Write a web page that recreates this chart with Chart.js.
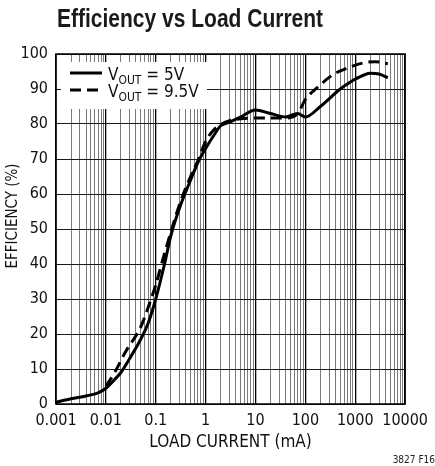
<!DOCTYPE html>
<html>
<head>
<meta charset="utf-8">
<script src="https://cdn.jsdelivr.net/npm/chart.js@4/dist/chart.umd.min.js"></script>
<style>
  html, body { margin: 0; padding: 0; background: #fff; }
</style>
</head>
<body>
<canvas id="efficiency" width="435" height="466"></canvas>
<script>
// decade labels on the load current axis (mA)
const currentTicks = ['0.001', '0.01', '0.1', '1', '10', '100', '1000', '10000'];

// VOUT = 5V
const current5V = [0.001, 0.002, 0.004, 0.007, 0.01, 0.015, 0.02, 0.03, 0.05, 0.07, 0.1, 0.15, 0.2, 0.3, 0.5, 0.7, 1, 1.5, 2, 3, 5, 10, 20, 40, 70, 100, 200, 500, 800, 1000, 1500, 2000, 3000, 4500];
const eff5V     = [0.5, 1.5, 2.3, 3.2, 4.5, 7, 9, 13, 18.5, 23, 30, 40, 48, 56, 64, 69, 73, 77, 79.5, 80.5, 82, 84, 83, 82, 83, 82, 85, 90, 92, 92.8, 94, 94.5, 94.3, 93.2];

// VOUT = 9.5V
const current9V5 = [0.01, 0.015, 0.025, 0.05, 0.07, 0.1, 0.15, 0.3, 0.5, 0.7, 1, 1.5, 2.5, 5, 15, 40, 70, 100, 170, 350, 700, 1500, 2500, 4500];
const eff9V5     = [5, 9, 15, 22, 27.5, 34, 43, 57, 65, 69.5, 75, 78.5, 80.5, 81.5, 81.7, 81.7, 83, 87, 90.3, 94, 96, 97.5, 97.8, 97.2];

const seriesNames = ['5V', '9.5V'];

const FONT = '"Liberation Sans Narrow", "Arial Narrow", "DejaVu Sans Condensed", sans-serif';
const decades = currentTicks.map(Number);

function isDecade(v) {
  const l = Math.log10(v);
  return Math.abs(l - Math.round(l)) < 1e-6;
}

const toPoints = (xs, ys) => xs.map((x, i) => ({ x: x, y: ys[i] }));

// title, y label, legend box, frame and figure tag
const extras = {
  id: 'extras',
  afterDraw(chart) {
    const ctx = chart.ctx;
    const a = chart.chartArea;
    ctx.save();

    // condensed bold heading
    ctx.fillStyle = '#1a1a1a';
    ctx.font = 'bold 25px "Liberation Sans", Arial, sans-serif';
    ctx.textBaseline = 'middle';
    ctx.textAlign = 'left';
    ctx.save();
    ctx.translate(57, 20);
    ctx.scale(0.84, 1);
    ctx.fillText('Efficiency vs Load Current', 0, 0);
    ctx.restore();

    ctx.save();
    ctx.translate(13, 216);
    ctx.rotate(-Math.PI / 2);
    ctx.textAlign = 'center';
    ctx.fillStyle = '#111';
    ctx.font = '15px ' + FONT;
    ctx.fillText('EFFICIENCY (%)', 0, 0);
    ctx.restore();

    // legend
    ctx.fillStyle = '#fff';
    ctx.fillRect(a.left + 5, a.top + 8, 146, 47);
    const rows = [{ y: a.top + 19, dash: [] }, { y: a.top + 36, dash: [11, 6] }];
    rows.forEach((r, i) => {
      ctx.strokeStyle = '#000';
      ctx.lineWidth = 3;
      ctx.setLineDash(r.dash);
      ctx.beginPath();
      ctx.moveTo(a.left + 14, r.y);
      ctx.lineTo(a.left + 46, r.y);
      ctx.stroke();
      ctx.setLineDash([]);
      ctx.fillStyle = '#111';
      ctx.textBaseline = 'alphabetic';
      let x = a.left + 52;
      ctx.font = '17px ' + FONT;
      ctx.fillText('V', x, r.y + 7);
      x += ctx.measureText('V').width;
      ctx.font = '12px ' + FONT;
      ctx.fillText('OUT', x, r.y + 11);
      x += ctx.measureText('OUT').width;
      ctx.font = '17px ' + FONT;
      ctx.fillText(' = ' + seriesNames[i], x, r.y + 7);
    });

    // frame
    ctx.strokeStyle = '#000';
    ctx.lineWidth = 1.5;
    ctx.strokeRect(a.left, a.top, a.right - a.left, a.bottom - a.top);

    ctx.fillStyle = '#222';
    ctx.font = '10px ' + FONT;
    ctx.textBaseline = 'middle';
    ctx.textAlign = 'right';
    ctx.fillText('3827 F16', 435, 460);
    ctx.restore();
  }
};

new Chart(document.getElementById('efficiency'), {
  type: 'line',
  data: {
    datasets: [{
      label: 'VOUT = ' + seriesNames[0],
      data: toPoints(current5V, eff5V),
      borderColor: '#000',
      borderWidth: 3,
      pointRadius: 0,
      cubicInterpolationMode: 'monotone'
    }, {
      label: 'VOUT = ' + seriesNames[1],
      data: toPoints(current9V5, eff9V5),
      borderColor: '#000',
      borderWidth: 3,
      borderDash: [11, 6],
      pointRadius: 0,
      cubicInterpolationMode: 'monotone'
    }]
  },
  options: {
    responsive: false,
    animation: false,
    layout: { padding: { top: 54, right: 25, left: 0, bottom: 0 } },
    plugins: {
      legend: { display: false },
      tooltip: { enabled: false }
    },
    scales: {
      x: {
        type: 'logarithmic',
        min: 0.001,
        max: 10000,
        afterBuildTicks: (scale) => {
          const t = [];
          decades.forEach(d => {
            for (let m = 1; m <= 9; m++) {
              const v = m * d;
              if (v <= decades[decades.length - 1]) t.push({ value: v });
            }
          });
          scale.ticks = t;
        },
        afterFit: (scale) => { scale.height = 62; },
        ticks: {
          autoSkip: false,
          maxRotation: 0,
          padding: 7,
          color: '#111',
          font: { family: FONT, size: 16 },
          callback: (v) => isDecade(v) ? currentTicks[Math.round(Math.log10(v)) + 3] : ''
        },
        grid: {
          drawTicks: false,
          color: (c) => isDecade(c.tick.value) ? '#000' : '#7a7a7a',
          lineWidth: (c) => isDecade(c.tick.value) ? 1.3 : 1
        },
        border: { display: false },
        title: {
          display: true,
          text: 'LOAD CURRENT (mA)',
          color: '#111',
          font: { family: FONT, size: 17 },
          padding: { top: 0, bottom: 13 }
        }
      },
      y: {
        min: 0,
        max: 100,
        afterFit: (scale) => { scale.width = 56; },
        ticks: {
          stepSize: 10,
          padding: 8,
          color: '#111',
          font: { family: FONT, size: 16 }
        },
        grid: { drawTicks: false, color: '#1a1a1a', lineWidth: 1 },
        border: { display: false }
      }
    }
  },
  plugins: [extras]
});
</script>
</body>
</html>
